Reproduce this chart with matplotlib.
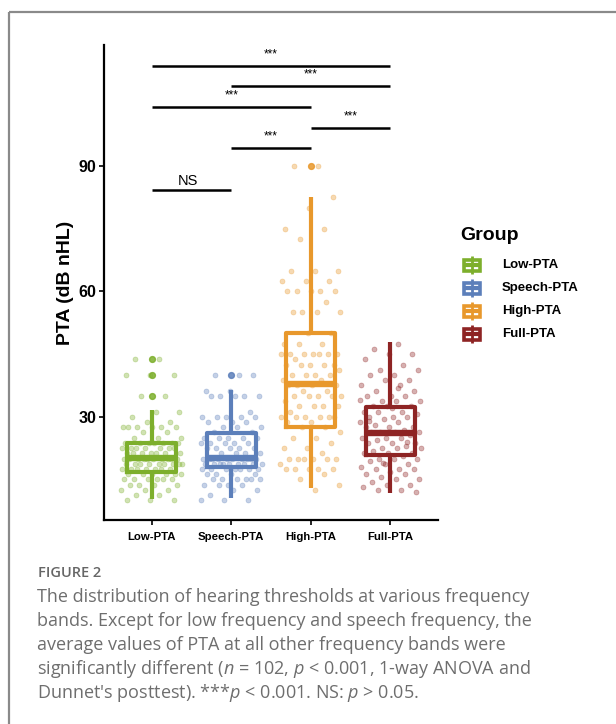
import numpy as np
import matplotlib
matplotlib.use("Agg")
import matplotlib.pyplot as plt
from matplotlib.patches import Rectangle

plt.rcParams['font.family'] = ['Liberation Sans', 'DejaVu Sans']
plt.rcParams['mathtext.fontset'] = 'custom'
plt.rcParams['mathtext.rm'] = 'Open Sans'
plt.rcParams['mathtext.it'] = 'Open Sans:italic'

# groups and colours
groups = ['Low-PTA', 'Speech-PTA', 'High-PTA', 'Full-PTA']
colors = ['#7DAF2C', '#5C7FBA', '#E8982C', '#8E2424']

# individual PTA values (dB nHL)
low_pta = [43.75, 43.75, 40, 40, 40, 35, 35, 31.25, 31.25, 30,
           28.75, 28.75, 27.5, 27.5, 27.5, 27.5, 27.5, 27.5, 26.25, 26.25,
           25, 25, 25, 23.75, 23.75, 23.75, 23.75, 23.75, 23.75, 23.75,
           22.5, 22.5, 22.5, 22.5, 22.5, 22.5, 22.5, 21.25, 21.25, 21.25,
           21.25, 21.25, 21.25, 21.25, 20, 20, 20, 20, 20, 20,
           20, 20, 20, 20, 18.75, 18.75, 18.75, 18.75, 18.75, 18.75,
           18.75, 18.75, 18.75, 17.5, 17.5, 17.5, 17.5, 17.5, 17.5, 17.5,
           16.25, 16.25, 16.25, 16.25, 16.25, 16.25, 15, 15, 15, 15,
           15, 15, 13.75, 13.75, 13.75, 13.75, 12.5, 12.5, 12.5, 11.25,
           11.25, 10, 10, 10]
speech_pta = [40, 40, 40, 36.25, 36.25, 35, 35, 35, 35, 35,
              31.25, 30, 30, 30, 30, 30, 28.75, 28.75, 28.75, 27.5,
              27.5, 27.5, 26.25, 26.25, 25, 25, 25, 25, 25, 23.75,
              23.75, 23.75, 23.75, 23.75, 22.5, 22.5, 22.5, 22.5, 22.5, 21.25,
              21.25, 21.25, 21.25, 20, 20, 20, 20, 20, 20, 20,
              20, 20, 20, 18.75, 18.75, 18.75, 18.75, 18.75, 18.75, 18.75,
              18.75, 18.75, 17.5, 17.5, 17.5, 17.5, 17.5, 17.5, 17.5, 16.25,
              16.25, 16.25, 16.25, 15, 15, 15, 15, 15, 15, 13.75,
              13.75, 13.75, 13.75, 12.5, 12.5, 11.25, 10, 10, 10]
high_pta = [90, 90, 82.5, 80, 75, 75, 72.5, 65, 65, 65,
            62.5, 62.5, 62.5, 60, 60, 60, 60, 60, 57.5, 55,
            55, 55, 55, 50, 50, 47.5, 47.5, 47.5, 45, 45,
            45, 45, 45, 45, 45, 43.75, 42.5, 42.5, 42.5, 42.5,
            42.5, 41.25, 40, 40, 40, 40, 38.75, 38.75, 37.5, 37.5,
            37.5, 37.5, 36.25, 36.25, 35, 35, 35, 35, 35, 33.75,
            32.5, 32.5, 32.5, 32.5, 31.25, 30, 30, 30, 30, 30,
            30, 28.75, 28.75, 27.5, 27.5, 26.25, 25, 25, 23.75, 22.5,
            22.5, 21.25, 20, 20, 20, 20, 20, 20, 18.75, 17.5,
            17.5, 17.5, 17.5, 17.5, 16.25, 15, 13.75, 12.5]
full_pta = [47.5, 46.25, 45, 45, 43.75, 42.5, 41.25, 41.25, 40, 40,
            38.75, 38.75, 37.5, 37.5, 36.25, 36.25, 35, 35, 35, 33.75,
            33.75, 33.75, 32.5, 32.5, 32.5, 31.25, 31.25, 31.25, 30.6, 30,
            30, 30, 29.4, 28.75, 28.75, 28.1, 27.5, 27.5, 27.5, 26.9,
            26.25, 26.25, 26.25, 26.25, 25.6, 25, 25, 25, 24.4, 23.75,
            23.75, 23.75, 23.1, 22.5, 22.5, 22.5, 21.9, 21.25, 21.25, 21.25,
            20.6, 20, 20, 20, 19.4, 18.75, 18.75, 18.1, 17.5, 17.5,
            17.5, 16.9, 16.25, 16.25, 15.6, 15, 15, 14.4, 13.75, 13.75,
            13.1, 12.5, 12.5, 11.9, 32, 29, 24, 19, 34, 36.9]
values = [low_pta, speech_pta, high_pta, full_pta]

# box statistics
q1 = [16.9, 18.1, 27.6, 20.9]
med = [20.2, 20.1, 37.9, 26.2]
q3 = [23.8, 26.2, 50.1, 32.4]
whislo = [10.3, 10.5, 12.9, 11.8]
whishi = [31.7, 36.5, 82.6, 48.0]
outliers = [[35, 40, 43.75], [40], [90], []]

# pairwise comparisons: (group a, group b, label, bar height)
comparisons = [(1, 2, 'NS', 84.2), (2, 3, '***', 94.3), (3, 4, '***', 99.1),
               (1, 3, '***', 104.1), (2, 4, '***', 109.2), (1, 4, '***', 114.0)]

W, H = 616, 724
fig = plt.figure(figsize=(W / 100, H / 100), dpi=100)

# page overlay in pixel units (frame, legend, caption)
page = fig.add_axes([0, 0, 1, 1], zorder=0)
page.set_xlim(0, W)
page.set_ylim(H, 0)
page.axis('off')
page.plot([9, W], [12, 12], color='#8a8a8a', lw=1.6, solid_capstyle='butt')
page.plot([9, 9], [12, H], color='#8a8a8a', lw=1.6, solid_capstyle='butt')

ax = fig.add_axes([104 / W, 1 - 520 / H, (438 - 104) / W, (520 - 45) / H], zorder=2)
ax.patch.set_alpha(0)

# jittered raw points
for i, vals in enumerate(values):
    n = len(vals)
    offs = ((np.arange(1, n + 1) * 0.6180339887) % 1 - 0.5) * 0.78
    ax.scatter(i + 1 + offs, vals, s=13, color=colors[i], alpha=0.36,
               edgecolors=colors[i], linewidths=0.5, zorder=2)

# boxplots
for i in range(4):
    st = [dict(med=med[i], q1=q1[i], q3=q3[i], whislo=whislo[i],
               whishi=whishi[i], fliers=outliers[i])]
    ax.bxp(st, positions=[i + 1], widths=0.62, showcaps=False,
           boxprops=dict(color=colors[i], lw=3.0),
           whiskerprops=dict(color=colors[i], lw=3.0, solid_capstyle='butt'),
           medianprops=dict(color=colors[i], lw=4.6, solid_capstyle='butt'),
           flierprops=dict(marker='o', markerfacecolor=colors[i], markeredgecolor=colors[i],
                           markersize=4.2, alpha=0.85),
           manage_ticks=False, zorder=3)

# significance bars
for a, b, lab, yv in comparisons:
    ax.plot([a, b], [yv, yv], color='black', lw=1.8, solid_capstyle='butt', zorder=4)
    if lab == 'NS':
        ax.text((a + b) / 2 - 0.05, yv + 0.6, lab, ha='center', va='bottom', fontsize=10.5, zorder=4)
    else:
        ax.text((a + b) / 2, yv + 1.4, lab, ha='center', va='bottom', fontsize=8.5, zorder=4)

ax.set_xlim(0.4, 4.6)
ax.set_ylim(5.3, 119)
ax.set_xticks([1, 2, 3, 4])
ax.set_xticklabels(groups, fontsize=8.2, fontweight='bold')
ax.set_yticks([30, 60, 90])
ax.set_yticklabels(['30', '60', '90'], fontsize=11.5, fontweight='bold')
ax.tick_params(axis='both', length=3.5, width=1.2, color='black', pad=2)
ax.tick_params(axis='x', pad=5)
for side in ['top', 'right']:
    ax.spines[side].set_visible(False)
for side in ['left', 'bottom']:
    ax.spines[side].set_linewidth(1.6)
ax.set_ylabel('PTA (dB nHL)', fontsize=14, fontweight='bold', labelpad=3)

# legend
page.text(460, 235, 'Group', fontsize=14, fontweight='bold', va='center', ha='left')
leg_y = [265, 288, 311, 334]
for i in range(4):
    y = leg_y[i]
    page.plot([472, 472], [y - 9, y + 9], color=colors[i], lw=2.0, solid_capstyle='butt')
    page.add_patch(Rectangle((464, y - 5.5), 16, 11, facecolor='white',
                             edgecolor=colors[i], lw=2.6))
    page.plot([464, 480], [y, y], color=colors[i], lw=3.0, solid_capstyle='butt')
    page.text(502, y, groups[i], fontsize=9.5, fontweight='bold', va='center', ha='left')

# caption
page.text(38, 573, 'FIGURE 2', fontsize=10.5, color='#666666', family='Open Sans',
          fontweight='semibold', va='center', ha='left')
caption = [
    'The distribution of hearing thresholds at various frequency',
    'bands. Except for low frequency and speech frequency, the',
    'average values of PTA at all other frequency bands were',
    r'significantly different ($n$ = 102, $p$ < 0.001, 1-way ANOVA and',
    r"Dunnet's posttest). ***$p$ < 0.001. NS: $p$ > 0.05.",
]
for k, line in enumerate(caption):
    page.text(37, 597 + 24 * k, line, fontsize=13, color='#6e6e6e', family='Open Sans',
              va='center', ha='left')

fig.savefig('out.png', dpi=100, facecolor='white')
